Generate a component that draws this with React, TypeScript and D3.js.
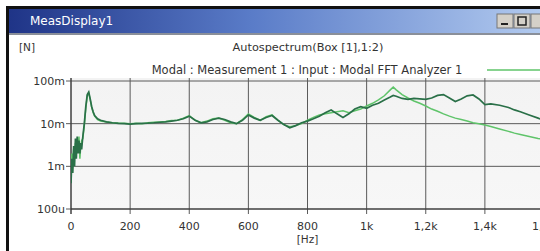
import React, { useMemo } from "react";
import * as d3 from "d3";

const W = 540;
const H = 251;
const PLOT = { left: 71, top: 81, bottom: 209, right: 544 };

// frequency in Hz, amplitudes in milli-Newton
const freqs = [
  0, 3, 6, 9, 12, 15, 18, 21, 24, 27, 30, 33, 36, 40, 45, 50, 55, 60, 65, 70, 75, 80, 90, 100,
  120, 140, 160, 180, 200, 220, 240, 260, 280, 300, 320, 340, 360, 380, 400, 420, 440, 460, 480,
  500, 520, 540, 560, 580, 600, 620, 640, 660, 680, 700, 720, 740, 760, 780, 800, 820, 840, 860,
  880, 900, 920, 940, 960, 980, 1000, 1020, 1040, 1060, 1080, 1090, 1100, 1120, 1140, 1160, 1180,
  1200, 1220, 1240, 1260, 1280, 1300, 1320, 1340, 1360, 1380, 1400, 1420, 1450, 1480, 1500, 1520,
  1550, 1580, 1600, 1620,
];
const darkSeries = [
  0.4, 1.5, 0.7, 3.0, 1.0, 4.5, 1.5, 5.0, 2.0, 4.0, 2.0, 3.5, 2.5, 5.0, 10, 25, 48, 55, 38, 25,
  19, 15.5, 13, 12, 11, 10.5, 10.2, 10, 9.8, 10, 10.2, 10.3, 10.5, 10.8, 11, 11.5, 12, 13, 15, 12,
  10.5, 11, 12.5, 13.5, 12.5, 11, 10, 12, 16, 13.5, 12, 14, 15.5, 12, 9.5, 8, 9, 10.5, 11.5, 13,
  15, 18, 21, 17, 14, 17, 22, 25, 23, 27, 30, 36, 42, 46, 44, 39, 37, 39, 38, 37, 40, 46, 48, 40,
  33, 38, 45, 47, 38, 28, 29, 27, 24, 21, 19, 16, 13.5, 12, 11,
];
const lightSeries = [
  0.5, 2.0, 1.0, 2.5, 1.5, 3.5, 2.0, 4.0, 2.5, 5.0, 1.5, 3.0, 4.0, 4.5, 9, 22, 45, 52, 36, 24,
  18, 15, 12.5, 11.5, 11, 10.5, 10.3, 10.2, 10, 10.2, 10, 10.5, 10.8, 11, 11.2, 11.8, 12, 13.5,
  15.5, 12, 10.5, 11.5, 13, 13.5, 12, 10.5, 10, 12.5, 17, 14, 12, 14.5, 16, 12, 9.5, 8.5, 9, 10,
  12, 14, 16, 17, 18, 19, 20, 18, 20, 22, 26, 30, 36, 45, 62, 72, 62, 48, 40, 34, 30, 26, 22,
  19.5, 17, 15, 13.5, 12.5, 11.5, 10.5, 10, 9.3, 8.6, 7.5, 6.6, 6, 5.6, 5, 4.5, 4.3, 4.0,
];

const xTicks = [0, 200, 400, 600, 800, 1000, 1200, 1400, 1600];
const xTickLabels = ["0", "200", "400", "600", "800", "1k", "1,2k", "1,4k", "1,6k"];
const yTicks = [100, 10, 1, 0.1];
const yTickLabels = ["100m", "10m", "1m", "100u"];

const FONT = "'DejaVu Sans', Verdana, sans-serif";
const DARK = "#2a7048";
const LIGHT = "#5fc46a";

export default function App() {
  const x = useMemo(
    () => d3.scaleLinear().domain([0, 1600]).range([PLOT.left, PLOT.right]),
    []
  );
  const y = useMemo(
    () => d3.scaleLog().domain([0.1, 100]).range([PLOT.bottom, PLOT.top]),
    []
  );

  const line = d3
    .line<number>()
    .x((_, i) => x(freqs[i]))
    .y((d) => y(d));

  return (
    <svg
      width={W}
      height={H}
      style={{ position: "absolute", left: 0, top: 0, display: "block" }}
      fontFamily={FONT}
    >
      <defs>
        <linearGradient id="titlebar" x1="0" x2="1" y1="0" y2="0">
          <stop offset="0" stopColor="#1f3487" />
          <stop offset="0.45" stopColor="#5a7cc8" />
          <stop offset="1" stopColor="#b4ccf0" />
        </linearGradient>
        <linearGradient id="plotbg" x1="0" x2="0" y1="0" y2="1">
          <stop offset="0" stopColor="#f3f3f3" />
          <stop offset="1" stopColor="#f7f7f7" />
        </linearGradient>
        <clipPath id="plotclip">
          <rect x={PLOT.left} y={PLOT.top - 12} width={W - PLOT.left} height={PLOT.bottom - PLOT.top + 12} />
        </clipPath>
      </defs>

      <rect x={0} y={0} width={W} height={H} fill="#fff" />
      {/* window frame */}
      <rect x={6} y={6} width={W} height={H} fill="#111" />
      <rect x={9} y={9} width={W} height={H} fill="#fff" />
      <rect x={9} y={9} width={W} height={24} fill="url(#titlebar)" />
      <rect x={9} y={33} width={W} height={2} fill="#8a8f99" />
      <text x={30} y={25} fontSize={12} fill="#fff">
        MeasDisplay1
      </text>
      {/* title bar buttons */}
      <g>
        <rect x={497} y={14} width={16} height={14} fill="#d4d0c8" stroke="#777" />
        <rect x={501} y={23} width={7} height={2} fill="#222" />
        <rect x={514} y={14} width={16} height={14} fill="#d4d0c8" stroke="#777" />
        <rect x={518} y={17} width={8} height={8} fill="none" stroke="#222" strokeWidth={1.5} />
        <rect x={531} y={14} width={16} height={14} fill="#d4d0c8" stroke="#777" />
      </g>

      {/* headers */}
      <text x={19} y={51} fontSize={10.5} fill="#333">
        [N]
      </text>
      <text x={308} y={51} fontSize={11.3} fill="#333" textAnchor="middle">
        Autospectrum(Box [1],1:2)
      </text>
      <text x={307} y={74} fontSize={11.5} fill="#333" textAnchor="middle">
        Modal : Measurement 1 : Input : Modal FFT Analyzer 1
      </text>
      <line x1={487} x2={W} y1={70} y2={70} stroke={LIGHT} strokeWidth={1.5} />

      {/* plot background */}
      <rect
        x={PLOT.left}
        y={PLOT.top - 3}
        width={W - PLOT.left}
        height={PLOT.bottom - PLOT.top + 3}
        fill="url(#plotbg)"
      />

      {/* grid */}
      {xTicks.map((t) => (
        <line
          key={`gx${t}`}
          x1={x(t)}
          x2={x(t)}
          y1={PLOT.top - 3}
          y2={PLOT.bottom + 5}
          stroke="#5a5a5a"
          strokeWidth={1}
        />
      ))}
      {yTicks.map((t) => (
        <line
          key={`gy${t}`}
          x1={PLOT.left - 5}
          x2={W}
          y1={y(t)}
          y2={y(t)}
          stroke="#5a5a5a"
          strokeWidth={1}
        />
      ))}
      <line x1={PLOT.left} x2={PLOT.left} y1={PLOT.top - 3} y2={PLOT.bottom + 5} stroke="#333" />
      <line x1={PLOT.left} x2={W} y1={PLOT.bottom} y2={PLOT.bottom} stroke="#333" />

      {/* tick labels */}
      {yTicks.map((t, i) => (
        <text
          key={`ly${t}`}
          x={PLOT.left - 6}
          y={y(t) + 4}
          fontSize={11}
          fill="#333"
          textAnchor="end"
        >
          {yTickLabels[i]}
        </text>
      ))}
      {xTicks.map((t, i) => (
        <text key={`lx${t}`} x={x(t)} y={230} fontSize={11} fill="#333" textAnchor="middle">
          {xTickLabels[i]}
        </text>
      ))}
      <text x={x(800)} y={243} fontSize={10.5} fill="#333" textAnchor="middle">
        [Hz]
      </text>

      {/* data */}
      <g clipPath="url(#plotclip)">
        <path d={line(lightSeries) ?? ""} fill="none" stroke={LIGHT} strokeWidth={1.5} />
        <path d={line(darkSeries) ?? ""} fill="none" stroke={DARK} strokeWidth={1.7} />
      </g>
    </svg>
  );
}
